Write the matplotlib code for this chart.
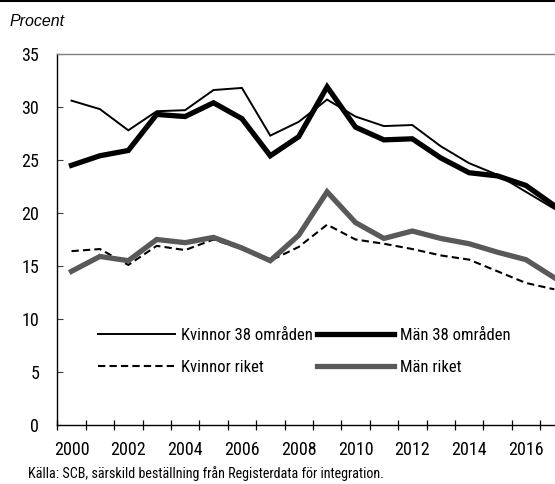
import matplotlib
matplotlib.use("Agg")
import matplotlib.pyplot as plt
from matplotlib import font_manager
from matplotlib.lines import Line2D

years = list(range(2000, 2018))
kvinnor_38 = [30.6, 29.8, 27.8, 29.6, 29.7, 31.6, 31.8, 27.3, 28.6, 30.7,
              29.1, 28.2, 28.3, 26.3, 24.7, 23.6, 22.0, 20.4]
man_38 = [24.5, 25.4, 25.9, 29.3, 29.1, 30.4, 28.9, 25.4, 27.2, 31.9,
          28.1, 26.9, 27.0, 25.2, 23.8, 23.5, 22.6, 20.7]
kvinnor_riket = [16.4, 16.6, 15.1, 16.9, 16.5, 17.5, 16.6, 15.5, 16.8, 18.9,
                 17.5, 17.1, 16.6, 16.0, 15.6, 14.5, 13.4, 12.8]
man_riket = [14.5, 15.9, 15.5, 17.5, 17.2, 17.7, 16.7, 15.5, 17.9, 22.0,
             19.1, 17.6, 18.3, 17.6, 17.1, 16.3, 15.6, 13.9]
year_labels = [str(y) for y in years[::2]]

# pick a narrow sans face if one is installed
narrow_prop = None
preferred = ["Liberation Sans Narrow", "Roboto Condensed", "Open Sans Condensed",
             "Noto Sans Condensed", "DejaVu Sans Condensed"]
entries = font_manager.fontManager.ttflist
for name in preferred:
    hit = [f for f in entries if f.name == name and f.style == "normal"]
    if hit:
        narrow_prop = font_manager.FontProperties(fname=hit[0].fname)
        break
if narrow_prop is None:
    cond = [f for f in entries if f.style == "normal" and f.weight in (400, "normal")
            and str(f.stretch) in ("condensed", "semi-condensed", "extra-condensed")]
    if cond:
        narrow_prop = font_manager.FontProperties(fname=cond[0].fname)
if narrow_prop is None:
    narrow_prop = font_manager.FontProperties(family="DejaVu Sans")


def nfont(size):
    p = narrow_prop.copy()
    p.set_size(size)
    return p


W, H = 555, 484
fig = plt.figure(figsize=(W / 100, H / 100), dpi=100)
ax = fig.add_axes([57.3 / W, 1 - 425 / H, (568.5 - 57.3) / W, (425 - 54) / H])

x = list(range(len(years)))
l_k38, = ax.plot(x, kvinnor_38, color="black", lw=1.4, label="Kvinnor 38 områden",
                 solid_joinstyle="miter")
l_m38, = ax.plot(x, man_38, color="black", lw=3.8, label="Män 38 områden",
                 solid_joinstyle="miter")
l_kr, = ax.plot(x, kvinnor_riket, color="black", lw=1.5, ls=(0, (3.5, 2)),
                label="Kvinnor riket")
l_mr, = ax.plot(x, man_riket, color="#595959", lw=3.8, label="Män riket",
                solid_joinstyle="miter")

ax.set_xlim(-0.5, len(years) - 0.5)
ax.set_ylim(0, 35)
ax.set_yticks(range(0, 36, 5))
ax.tick_params(axis="y", direction="in", length=4, width=0.8, pad=13, color="#404040")
for t in ax.get_yticklabels():
    t.set_fontproperties(nfont(13))

ax.set_xticks([i - 0.5 for i in range(len(years) + 1)])
ax.set_xticklabels([])
ax.tick_params(axis="x", which="major", direction="inout", length=7, width=0.9)
ax.set_xticks(x[::2], minor=True)
ax.set_xticklabels(year_labels, minor=True, fontproperties=nfont(13))
ax.tick_params(axis="x", which="minor", length=0, pad=11.5)

ax.spines["right"].set_visible(False)
ax.spines["top"].set_color("#808080")
ax.spines["top"].set_linewidth(1.0)
ax.spines["left"].set_linewidth(1.0)
ax.spines["bottom"].set_linewidth(1.0)

# two legend columns, each anchored at its own handle start
leg_kw = dict(loc="center left", frameon=False, prop=nfont(12), handlelength=4.6,
              handletextpad=0.4, labelspacing=1.0, borderpad=0, borderaxespad=0,
              bbox_transform=fig.transFigure)
leg1 = ax.legend(handles=[l_k38, l_kr], bbox_to_anchor=(98 / W, 1 - 351.5 / H), **leg_kw)
ax.add_artist(leg1)
ax.legend(handles=[l_m38, l_mr], bbox_to_anchor=(317 / W, 1 - 351.5 / H), **leg_kw)

fig.text(10 / W, 1 - 21 / H, "Procent", fontsize=11.5, style="italic",
         family="Liberation Sans", va="center", ha="left")
fig.text(28 / W, 1 - 478 / H,
         "Källa: SCB, särskild beställning från Registerdata för integration.",
         fontproperties=nfont(10.2), va="baseline", ha="left")
fig.add_artist(Line2D([0, 1], [1 - 1 / H, 1 - 1 / H], color="black", lw=1.5,
                      transform=fig.transFigure))

fig.savefig("out.png", dpi=100)
